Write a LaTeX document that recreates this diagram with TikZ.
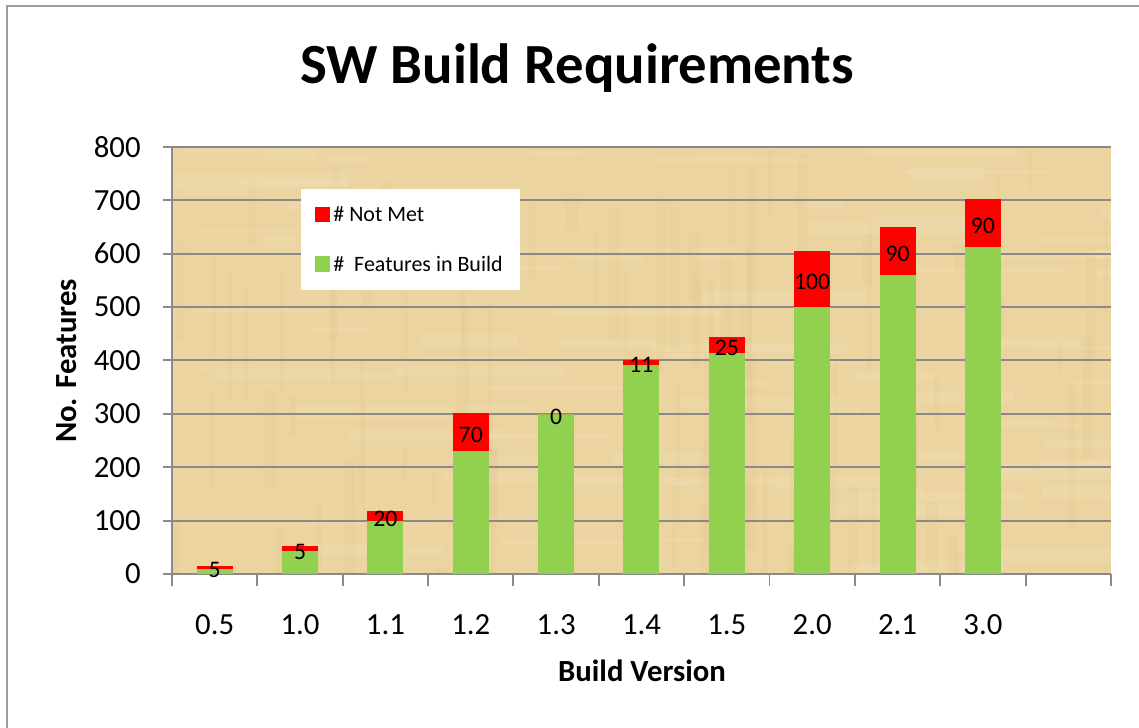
\documentclass[tikz,border=0pt]{standalone}
\usepackage{fontspec}
\setmainfont{Carlito}
\usepackage{xcolor}
\usepackage{tikz}

\definecolor{parch}{RGB}{235,212,160}
\definecolor{parchdark}{RGB}{210,180,118}
\definecolor{gridgray}{RGB}{138,138,138}
\definecolor{metgreen}{RGB}{146,208,80}

\begin{document}
\begin{tikzpicture}[x=0.2mm,y=-0.2mm,
		gridline/.style={gridgray,line width=1.1pt},
		ticklabel/.style={font=\fontsize{17.5}{20}\selectfont,inner sep=0pt},
		datalabel/.style={font=\fontsize{13.5}{15}\selectfont,inner sep=0pt},
		legendlabel/.style={font=\fontsize{12.5}{14}\selectfont,inner sep=0pt,anchor=west},
		axistitle/.style={font=\bfseries\fontsize{17.5}{20}\selectfont,inner sep=0pt}]
		\def\bw{18}
		\def\sw{85.36}
		\def\py{0.534}
		\useasboundingbox (0,0) rectangle (1139,727);
		% chart frame, only top and left edge inside the page
		\draw [gridgray!85,line width=1pt] (7,760) -- (7,6) -- (1160,6);
		% parchment plot area
		\fill [parch] (172,147) rectangle (1111,574);
		\begin{scope}
			\clip (172,147) rectangle (1111,574);
			\pgfmathsetseed{11}
			\foreach \k in {1,...,90} {
				\pgfmathsetmacro\xa{172+939*rnd}
				\pgfmathsetmacro\ya{147+427*rnd}
				\pgfmathsetmacro\ww{3+10*rnd}
				\pgfmathsetmacro\hh{30+160*rnd}
				\fill [parchdark,opacity=0.08] (\xa,\ya) rectangle ++(\ww,\hh);
			}
			\foreach \k in {1,...,90} {
				\pgfmathsetmacro\xa{172+939*rnd}
				\pgfmathsetmacro\ya{147+427*rnd}
				\pgfmathsetmacro\ww{30+160*rnd}
				\pgfmathsetmacro\hh{3+10*rnd}
				\fill [white,opacity=0.07] (\xa,\ya) rectangle ++(\ww,\hh);
			}
		\end{scope}
		% grid and y ticks
		\foreach \v in {0,...,8} {
			\pgfmathsetmacro\gy{574-\v*100*\py}
			\pgfmathtruncatemacro\t{\v*100}
			\draw [gridline] (163,\gy) -- (172,\gy);
			\ifnum\v>0 \draw [gridline] (172,\gy) -- (1111,\gy); \fi
			\node [ticklabel,anchor=east] (ytick\v) at (141,\gy) {\t};
		}
		% axes and category ticks
		\draw [gridline] (172,147) -- (172,574) -- (1111,574);
		\foreach \k in {0,...,11}
			\draw [gridline] (172+\k*\sw,574) -- (172+\k*\sw,586);
		% stacked bars: features in build, then not met on top
		\foreach \i/\lab/\met/\tot/\nm in {0/0.5/10/15/5, 1/1.0/43/52/5,
				2/1.1/100/118/20, 3/1.2/231/302/70, 4/1.3/300/300/0,
				5/1.4/392/401/11, 6/1.5/414/444/25, 7/2.0/500/604/100,
				8/2.1/560/650/90, 9/3.0/613/702/90} {
			\pgfmathsetmacro\cx{172+(\i+0.5)*\sw}
			\pgfmathsetmacro\gy{574-\met*\py}
			\pgfmathsetmacro\ry{574-\tot*\py}
			\fill [metgreen] (\cx-\bw,574) rectangle (\cx+\bw,\gy);
			\fill [red] (\cx-\bw,\gy) rectangle (\cx+\bw,\ry);
			\node [datalabel] (val\i) at (\cx,{(\gy+\ry)/2+3}) {\nm};
			\node [ticklabel] (cat\i) at (\cx,625) {\lab};
		}
		% legend
		\fill [white] (301,189) rectangle (520,290);
		\fill [red] (315,207) rectangle (330,222);
		\fill [metgreen] (315,256) rectangle (330,272);
		\node [legendlabel] (notmet) at (333,214.5) {\# Not Met};
		\node [legendlabel] (inbuild) at (333,264) {\#\ \ Features in Build};
		% titles
		\node [font=\bfseries\fontsize{32.3}{36}\selectfont,inner sep=0pt,anchor=base] (title) at (577,84) {SW Build Requirements};
		\node [axistitle,rotate=90] (ytitle) at (67,361) {No. Features};
		\node [axistitle] (xtitle) at (642,671) {Build Version};
	\end{tikzpicture}
\end{document}
